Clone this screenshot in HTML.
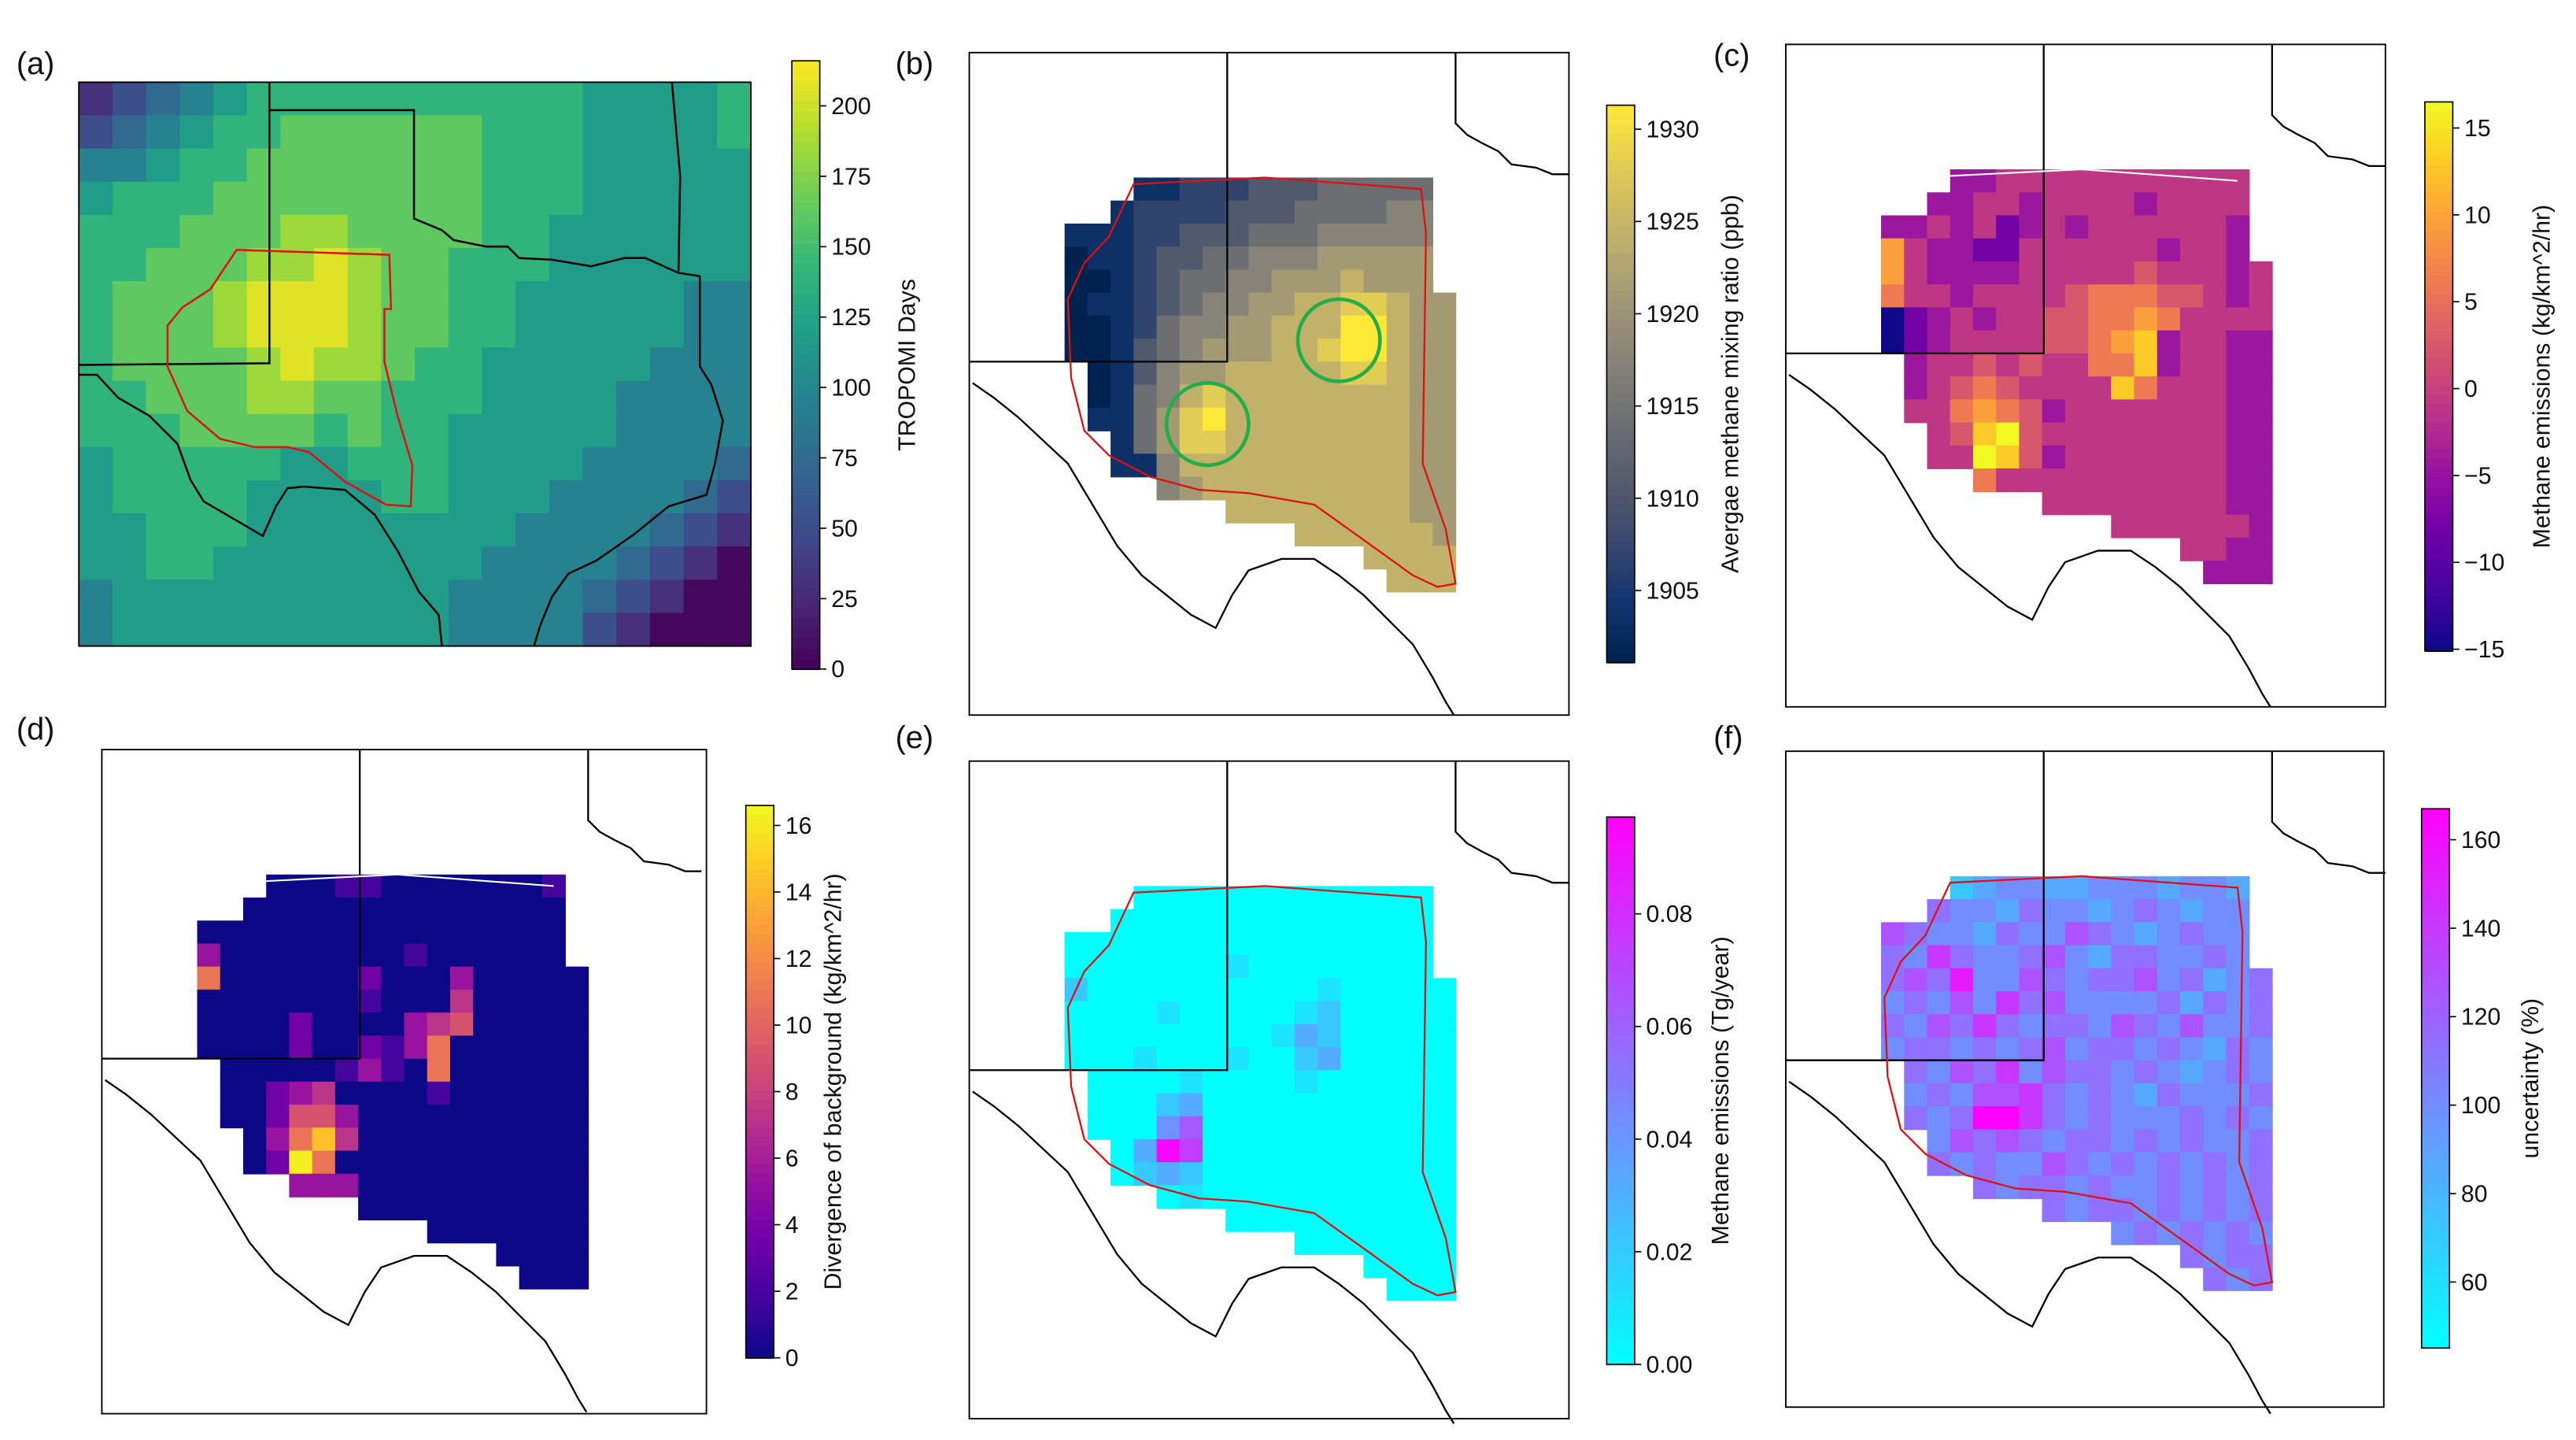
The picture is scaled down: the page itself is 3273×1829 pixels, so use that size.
<!DOCTYPE html>
<html><head><meta charset="utf-8">
<style>
html,body{margin:0;padding:0;background:#fff;}
svg{display:block;}
text{font-family:"Liberation Sans","DejaVu Sans",sans-serif;}
</style></head>
<body>
<svg id="fig" width="3273" height="1829" viewBox="0 0 1568 876" preserveAspectRatio="none" xmlns="http://www.w3.org/2000/svg"></svg>
<script>
// ---------- DATA ----------
// Panel (a): TROPOMI days grid, digit d -> d*22+8 days
const gridA = [
"12345666666666655556",
"23456677777766655556",
"44566777777766655555",
"56667777777766655555",
"66677788777766555555",
"66777889877666555555",
"67778999877665555544",
"67778999877665555544",
"67777898876655555444",
"66777887766655554444",
"66677776766555554444",
"56666655666555544443",
"56666555566555444432",
"55666555555554444321",
"55665555555544443210",
"45555555555444432100",
"45555555555444421000"];
const gridB = [
"...1122233344444.",
"..12222333444455.",
"1112233344455555.",
"0112334455566666.",
"0012344556667666.",
"01123455667788766",
"00124556677799766",
"00134566677899766",
".0135667777788766",
".0145787777777766",
".1146897777777766",
"..146887777777766",
"..115777777777766",
"....5677777777766",
".......7777777766",
"..........7777776",
".............7777",
"..............777"];
const gridC = [
"...3344444444444.",
"..33443444434444.",
"3343423434444443.",
"7433224444443443.",
"74333344444544434",
"64434444566655434",
"02343445566764444",
"02344445567834433",
".3445454466834433",
".3456544448644433",
".4467653444444433",
"..458954444444433",
"..449853444444433",
"....6444444444433",
".......4444444433",
"..........4444443",
".............4433",
"..............333"];
const gridD = [
"...0001100000001.",
"..00000000000000.",
"0000000000000000.",
"3000000001000000.",
"60000002000300000",
"00000001000400000",
"00002000034500000",
"00002002136000000",
".0000013106000000",
".0023400001000000",
".0025530000000000",
"..036840000000000",
"..029600000000000",
"....3330000000000",
".......0000000000",
"..........0000000",
".............0000",
"..............000"];
const gridE = [
"...0000000000000.",
"..00000000000000.",
"0000000000000000.",
"0000000100000000.",
"20000000000100000",
"00001000001200000",
"00000000013200000",
"00010001002300000",
".0000100001000000",
".0002300000000000",
".0004600000000000",
"..039700000000000",
"..023200000000000",
"....0100000000000",
".......0000000000",
"..........0000000",
".............0000",
"..............000"];
const gridF = [
"...2344334443443.",
"..54435443454344.",
"6544354465434544.",
"5475445643554454.",
"56584465455645345",
"45464756444453545",
"54657545546546445",
"45545456455454354",
".5465746554543454",
".4546675454354445",
".5459975454445454",
"..465654554545445",
"..545446545454545",
"....5455454454545",
".......5455454545",
"..........4545454",
".............5455",
"..............545"];
const ticksA = [0,25,50,75,100,125,150,175,200];
const ticksB = [1905,1910,1915,1920,1925,1930];
const ticksC = [-15,-10,-5,0,5,10,15];
const ticksD = [0,2,4,6,8,10,12,14,16];
const ticksE = [0.00,0.02,0.04,0.06,0.08];
const ticksF = [60,80,100,120,140,160];

// ---------- COLORMAPS ----------
const VIR=[[68,1,84],[72,40,120],[62,74,137],[49,104,142],[38,130,142],[31,158,137],[53,183,121],[110,206,88],[181,222,43],[253,231,37]];
const CIV=[[0,34,78],[18,53,112],[59,73,108],[87,93,109],[112,113,115],[138,134,120],[165,156,116],[195,179,105],[225,204,85],[254,232,56]];
const PLA=[[13,8,135],[65,4,157],[106,0,168],[143,13,164],[177,42,144],[204,71,120],[225,100,98],[242,132,75],[252,166,54],[252,206,37],[240,249,33]];
const COOL=[[0,255,255],[255,0,255]];
function cmap(st,t){t=Math.max(0,Math.min(1,t));const p=t*(st.length-1);const i=Math.min(Math.floor(p),st.length-2);const f=p-i;
 const c=st[i].map((v,k)=>Math.round(v+(st[i+1][k]-v)*f));return `rgb(${c[0]},${c[1]},${c[2]})`;}

const NS="http://www.w3.org/2000/svg";
const svg=document.getElementById('fig');
function el(tag,attrs,parent){const e=document.createElementNS(NS,tag);for(const k in attrs)e.setAttribute(k,attrs[k]);(parent||svg).appendChild(e);return e;}
function txt(s,attrs,parent){const t=el('text',attrs,parent);t.textContent=s;return t;}
function pts(a,dx,dy){return a.map(p=>(p[0]+dx)+','+(p[1]+dy)).join(' ');}

// ---------- colorbar ----------
function colorbar(name,x,y0,y1,vmin,vmax,st,ticks,fmt,label,lx){
 const g=el('g',{});
 
 
 const yOf=v=>y1-(v-vmin)/(vmax-vmin)*(y1-y0);
 const n=60;
 for(let i=0;i<n;i++){
  el('rect',{x:x,y:y0+(y1-y0)*i/n,width:17,height:(y1-y0)/n+0.6,fill:cmap(st,1-(i+0.5)/n)},g);
 }
 el('rect',{x:x,y:y0,width:17,height:y1-y0,fill:'none',stroke:'#000','stroke-width':0.8},g);
 ticks.forEach(v=>{const yy=yOf(v);
  const tk=el('line',{x1:x+17,x2:x+21,y1:yy,y2:yy,stroke:'#000','stroke-width':0.8},g);
  
  
  const t=txt(fmt(v),{x:x+24,y:yy+5,'font-size':14.5,fill:'#111'},g);
  
  
 });
 const cy=(y0+y1)/2;
 const lt=txt(label,{x:lx,y:cy,'font-size':14.5,fill:'#111','text-anchor':'middle',transform:`rotate(-90 ${lx} ${cy})`},g);
 
 
}

function panelLabel(s,x,y){const t=txt(s,{x:x,y:y,'font-size':19,fill:'#111'});
 
 }

// ---------- Panel A ----------
(function(){
 const X0=48,Y0=50,W=409,H=343;
 const g=el('g',{});
 
 
 const rows=gridA.length, cols=gridA[0].length, cw=W/cols, ch=H/rows;
 const xs=c=>X0+c*cw, ys=r=>Y0+r*ch;
 gridA.forEach((row,r)=>{[...row].forEach((d,c)=>{
   const v=(+d)*22+(d==='0'?4:8);
   const cell=el('rect',{x:xs(c),y:ys(r),width:cw+0.5,height:ch+0.5,fill:cmap(VIR,v/216)},g);
   
   
 });});
 const line=(a,nm,col,w)=>{const p=el('polyline',{points:pts(a,0,0),fill:'none',stroke:col||'#000','stroke-width':w||1.2},g);
   
   };
 line([[164,50],[164,221],[48,222]],'nm-border');
 line([[164,67],[252,67],[252,133],[269,140],[276,146],[296,150],[309,150],[316,157],[336,158],[360,162],[380,157],[393,157],[413,166],[426,168]],'oklahoma-border');
 line([[409,50],[414,107],[413,165]],'arkansas-border');
 line([[426,168],[426,223],[433,234],[440,256],[435,283],[430,301],[407,308],[386,325],[363,341],[346,349],[336,363],[329,380],[325,393]],'texas-coast');
 line([[48,228],[59,228],[72,242],[91,253],[108,270],[116,292],[124,305],[148,319],[160,326],[168,308],[175,297],[185,296],[210,298],[228,313],[242,335],[255,360],[267,374],[269,393]],'rio-grande');
 const red=el('polygon',{points:pts([[144,152],[237,155],[238,188],[234,188],[234,220],[242,253],[251,283],[250,308],[235,307],[210,293],[188,275],[175,272],[155,272],[134,267],[114,250],[102,223],[102,198],[111,187],[128,176]],0,0),fill:'none',stroke:'#e01010','stroke-width':1.2},g);
 
 
 el('rect',{x:X0,y:Y0,width:W,height:H,fill:'none',stroke:'#000','stroke-width':0.9},g);
})();
colorbar('colorbar-a',482,37,407,0,216,VIR,ticksA,v=>String(v),'TROPOMI Days',557);
panelLabel('(a)',10,45);

// ---------- Panels B-F ----------
const basinOutline=[[100,80],[180,76],[275,83],[278,110],[276,250],[290,290],[296,323],[285,325],[270,318],[245,300],[210,275],[170,268],[140,266],[110,258],[85,245],[70,230],[62,198],[60,150],[70,128],[85,112]];
function zoomPanel(name,fx,fy,fw,fh,grid,valOf,st,vmin,vmax,opts){
 const g=el('g',{});
 
 
 const cell=14, ox=fx+58, oy=fy+76;
 const xs=c=>ox+c*cell, ys=r=>oy+r*cell;
 grid.forEach((row,r)=>{[...row].forEach((d,c)=>{
   if(d==='.')return;
   const v=valOf(+d);
   const rc=el('rect',{x:xs(c),y:ys(r),width:cell+0.4,height:cell+0.4,fill:cmap(st,(v-vmin)/(vmax-vmin))},g);
   
   
 });});
 const line=(a,nm)=>{const p=el('polyline',{points:pts(a,fx,fy),fill:'none',stroke:'#000','stroke-width':1.1},g);
   
   };
 line([[157,0],[157,188],[0,188]],'nm-border');
 line([[296,0],[296,43],[303,50],[312,55],[322,60],[330,68],[345,70],[355,74],[365,74]],'oklahoma-border');
 line([[2,201],[15,210],[30,222],[45,236],[60,250],[75,275],[90,300],[105,318],[120,330],[135,342],[150,350],[160,330],[170,315],[190,308],[210,308],[225,318],[240,330],[255,345],[270,360],[282,380],[290,395],[295,403]],'rio-grande');
 if(opts.red){const p=el('polygon',{points:pts(basinOutline,fx,fy),fill:'none',stroke:'#e01010','stroke-width':1.1},g);
   
   }
 if(opts.white){const p=el('polyline',{points:pts(basinOutline.slice(0,3),fx,fy),fill:'none',stroke:'#fff','stroke-width':1},g);
   
   }
 el('rect',{x:fx,y:fy,width:fw,height:fh,fill:'none',stroke:'#000','stroke-width':0.9},g);
 return g;
}
const gb=zoomPanel('panel-b-map',590,32,365,403,gridB,d=>1900+d*3.5,CIV,1901.1,1931.3,{red:true});
[[815,207],[735,258]].forEach(c=>{const ci=el('circle',{cx:c[0],cy:c[1],r:25,fill:'none',stroke:'#1fae4a','stroke-width':2.2},gb);
 
 });
colorbar('colorbar-b',978,64,403,1901.1,1931.3,CIV,ticksB,v=>String(v),'Avergae methane mixing ratio (ppb)',1058);
panelLabel('(b)',545,45);

zoomPanel('panel-c-map',1087,27,365,403,gridC,d=>-15+d*3.5,PLA,-15.1,16.5,{white:true});
colorbar('colorbar-c',1476,62,396,-15.1,16.5,PLA,ticksC,v=>(v<0?'\u2212'+(-v):String(v)),'Methane emissions (kg/km^2/hr)',1552);
panelLabel('(c)',1043,40);

zoomPanel('panel-d-map',62,456,368,404,gridD,d=>d*1.8,PLA,0,16.6,{white:true});
colorbar('colorbar-d',454,490,826,0,16.6,PLA,ticksD,v=>String(v),'Divergence of background (kg/km^2/hr)',512);
panelLabel('(d)',10,450);

zoomPanel('panel-e-map',590,463,365,400,gridE,d=>d*0.0105,COOL,0,0.0972,{red:true});
colorbar('colorbar-e',978,497,830,0,0.0972,COOL,ticksE,v=>v.toFixed(2),'Methane emissions (Tg/year)',1052);
panelLabel('(e)',545,455);

zoomPanel('panel-f-map',1087,457,364,399,gridF,d=>45+d*13.7,COOL,45.1,167,{red:true});
colorbar('colorbar-f',1474,492,820,45.1,167,COOL,ticksF,v=>String(v),'uncertainty (%)',1545);
panelLabel('(f)',1043,455);
</script>
</body></html>
